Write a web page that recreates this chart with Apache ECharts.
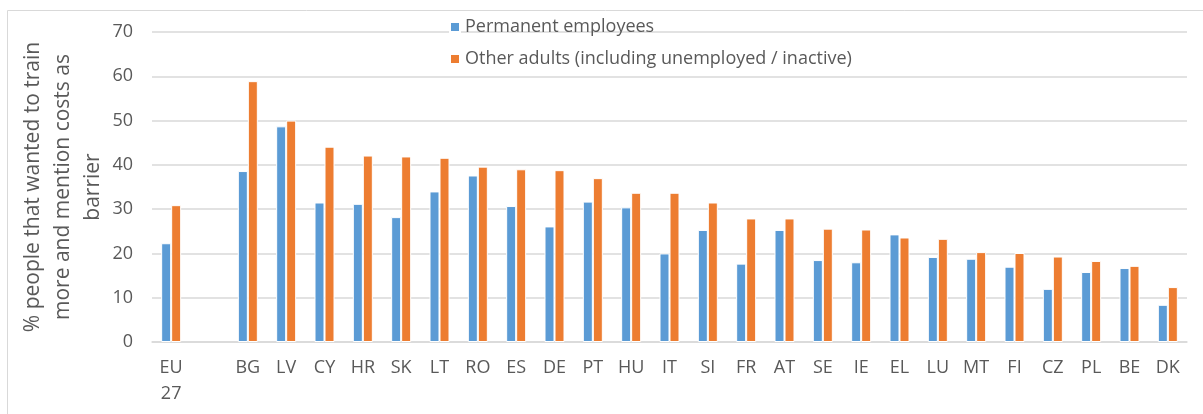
<!DOCTYPE html>
<html>
<head>
<meta charset="utf-8">
<script src="https://cdn.jsdelivr.net/npm/echarts@6/dist/echarts.min.js"></script>
<style>
  html, body { margin: 0; padding: 0; background: #fff; }
  #chart { width: 1203px; height: 414px; }
</style>
</head>
<body>
<div id="chart"></div>
<script>
// categories (an empty slot after EU27, as in the original)
const countries = ['EU\n27', '', 'BG', 'LV', 'CY', 'HR', 'SK', 'LT', 'RO', 'ES', 'DE', 'PT', 'HU', 'IT',
    'SI', 'FR', 'AT', 'SE', 'IE', 'EL', 'LU', 'MT', 'FI', 'CZ', 'PL', 'BE', 'DK'];

const permanentEmployees = [22.3, null, 38.6, 48.7, 31.5, 31.2, 28.2, 34.0, 37.6, 30.7, 26.1, 31.7, 30.4, 20.0,
    25.3, 17.7, 25.3, 18.5, 18.0, 24.3, 19.2, 18.8, 17.0, 12.0, 15.8, 16.7, 8.4];

const otherAdults = [30.9, null, 58.9, 50.0, 44.1, 42.1, 41.9, 41.6, 39.6, 39.0, 38.8, 37.0, 33.7, 33.7,
    31.5, 27.9, 27.9, 25.6, 25.4, 23.6, 23.3, 20.3, 20.1, 19.3, 18.3, 17.2, 12.4];

const seriesNames = ['Permanent employees', 'Other adults (including unemployed / inactive)'];

const textColor = '#595959';
const fontFamily = 'Open Sans';

let chart = echarts.init(document.getElementById('chart'));

let option = {
    animation: false,
    textStyle: { fontFamily: fontFamily },
    // light frame round the chart area
    graphic: [{
        type: 'rect',
        shape: { x: 7.5, y: 10.5, width: 1300, height: 500 },
        style: { fill: 'none', stroke: '#D9D9D9', lineWidth: 1 },
        silent: true
    }],
    legend: {
        orient: 'vertical',
        left: 444,
        top: 13,
        itemWidth: 10,
        itemHeight: 10,
        itemGap: 14,
        icon: 'rect',
        textStyle: { color: textColor, fontSize: 18, fontFamily: fontFamily }
    },
    grid: { left: 152, right: 16, top: 32, bottom: 72 },
    xAxis: {
        type: 'category',
        data: countries,
        axisLine: { lineStyle: { color: '#D9D9D9', width: 1.5 } },
        axisTick: { show: false },
        axisLabel: {
            color: textColor, fontSize: 18, fontFamily: fontFamily,
            interval: 0, margin: 13, lineHeight: 26
        }
    },
    yAxis: {
        type: 'value',
        min: 0,
        max: 70,
        interval: 10,
        name: '% people that wanted to train\nmore and mention costs as\nbarrier',
        nameLocation: 'middle',
        nameGap: 44,
        nameMoveOverlap: false,
        nameTextStyle: { color: textColor, fontSize: 21, fontFamily: fontFamily, lineHeight: 30 },
        axisLine: { show: false },
        axisTick: { show: false },
        axisLabel: { color: textColor, fontSize: 18, fontFamily: fontFamily, margin: 19 },
        splitLine: { lineStyle: { color: '#D9D9D9', width: 1.5 } }
    },
    series: [{
        name: seriesNames[0],
        type: 'bar',
        data: permanentEmployees,
        barWidth: 10,
        barGap: '0%',
        itemStyle: { color: '#5B9BD5', borderColor: '#fff', borderWidth: 1 }
    }, {
        name: seriesNames[1],
        type: 'bar',
        data: otherAdults,
        barWidth: 10,
        itemStyle: { color: '#ED7D31', borderColor: '#fff', borderWidth: 1 }
    }]
};

chart.setOption(option);
</script>
</body>
</html>
